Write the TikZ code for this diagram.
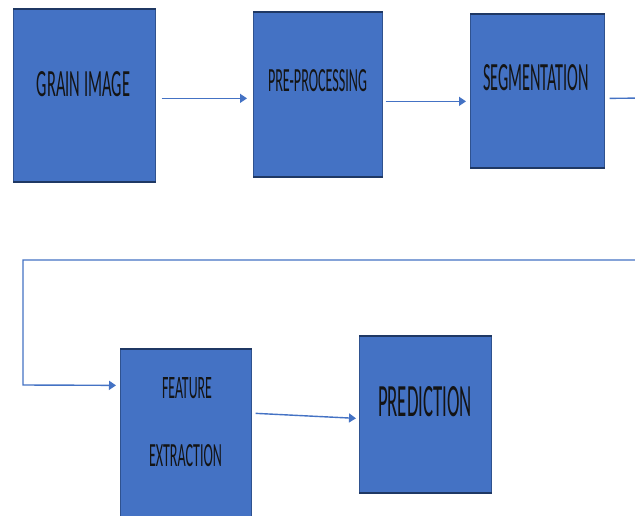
\documentclass[tikz,border=0pt]{standalone}
\usepackage{fontspec}
\setmainfont{Carlito}
\usetikzlibrary{arrows.meta,calc}
\definecolor{boxblue}{HTML}{4472C4}
\definecolor{edgedark}{HTML}{1F3864}
\definecolor{sidecol}{HTML}{2F528F}
\definecolor{linkblue}{HTML}{4472C4}
\definecolor{txt}{HTML}{141414}
\tikzset{
  stagebox/.style={rectangle, fill=boxblue, draw=sidecol, line width=0.7pt, inner sep=0pt, anchor=north west},
  edgeline/.style={draw=edgedark, line width=2pt},
  lbl/.style={inner sep=0pt, text=txt},
  link/.style={draw=linkblue, line width=1.4pt, -{Triangle[length=7pt,width=9pt]}},
}
\begin{document}
\begin{tikzpicture}[x=1pt,y=-1pt]
\useasboundingbox (0,0) rectangle (635,515);
\clip (0,0) rectangle (635,515);
\fill[white] (0,0) rectangle (635,515);

% boxes
\node[stagebox, minimum width=142pt, minimum height=172pt] (grain) at (13,9) {};
\node[stagebox, minimum width=129pt, minimum height=164pt] (pre) at (253,12) {};
\node[stagebox, minimum width=134pt, minimum height=153pt] (seg) at (470,14) {};
\node[stagebox, minimum width=131pt, minimum height=175pt] (feat) at (120,349) {};
\node[stagebox, minimum width=132pt, minimum height=156pt] (pred) at (359,336) {};

\foreach \b in {grain,pre,seg,feat,pred}{
  \draw[edgeline] (\b.north west) -- (\b.north east);
  \draw[edgeline] (\b.south west) -- (\b.south east);
}

% labels
\node[lbl] (grainT) at (83.5,84.5) {\resizebox{93pt}{25pt}{GRAIN IMAGE}};
\node[lbl] (preT) at (317.5,81) {\resizebox{99pt}{22pt}{PRE-PROCESSING}};
\node[lbl] (segT) at (536,78) {\resizebox{106pt}{26pt}{SEGMENTATION}};
\node[lbl] (featT1) at (187,388) {\resizebox{50pt}{21pt}{FEATURE}};
\node[lbl] (featT2) at (185.5,456) {\resizebox{73pt}{22pt}{EXTRACTION}};
\node[lbl] (predT) at (425,402) {\resizebox{94pt}{30pt}{PREDICTION}};

% connectors
\draw[link] ([xshift=6pt,yshift=-3pt]grain.east) -- ([xshift=-6pt,yshift=-4pt]pre.west);
\draw[link] ([xshift=3pt,yshift=-7pt]pre.east) -- ([xshift=-4pt,yshift=-10.5pt]seg.west);

\coordinate (r1) at (650,98);
\coordinate (r2) at (650,260);
\coordinate (l1) at (23,260);
\coordinate (l2) at (23,385);
\draw[link] ([xshift=5pt,yshift=-7.5pt]seg.east) -- (r1) -- (r2) -- (l1) -- (l2) -- ([xshift=-4pt,yshift=51.5pt]feat.west);

\draw[link] ([xshift=4pt,yshift=23.5pt]feat.east) -- ([xshift=-3pt,yshift=-4pt]pred.west);
\end{tikzpicture}
\end{document}
